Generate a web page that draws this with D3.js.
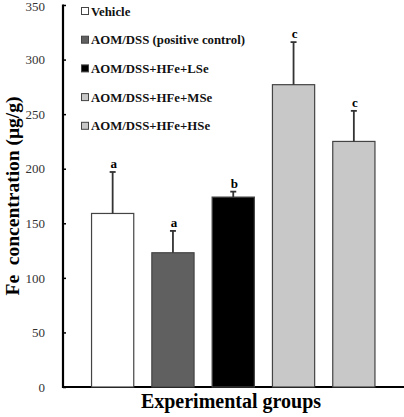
<!DOCTYPE html>
<html><head><meta charset="utf-8">
<script src="https://cdn.jsdelivr.net/npm/d3@7"></script>
<style>html,body{margin:0;padding:0;background:#fff;}svg{display:block;}</style>
</head><body>
<svg id="c" width="404" height="417"></svg>
<script>
const groups = ["Vehicle","AOM/DSS (positive control)","AOM/DSS+HFe+LSe","AOM/DSS+HFe+MSe","AOM/DSS+HFe+HSe"];
const means = [159, 123, 174, 277, 225];
const errors = [38, 20, 5, 39, 28];
const letters = ["a","a","b","c","c"];
const colors = ["#ffffff","#606060","#000000","#c8c8c8","#c8c8c8"];
const yTicks = [0,50,100,150,200,250,300,350];

const svg = d3.select("#c");
const font = "'Liberation Serif','Times New Roman',serif";
const x = d3.scaleBand().domain(groups).range([82.5,384]).paddingInner(0.3).paddingOuter(0.15);
const y = d3.scaleLinear().domain([0,350]).range([387,5]);

// y axis
const ya = svg.append("g").attr("transform","translate(63,0)")
  .call(d3.axisRight(y).tickValues(yTicks).tickSize(3).tickFormat(d3.format("d")));
ya.select(".domain").remove();
ya.selectAll(".tick line").attr("stroke","#000").attr("stroke-width",1.5);
ya.selectAll(".tick text").attr("x",-18).attr("text-anchor","end").attr("dx",0)
  .attr("dy",d=>d===350?"0.45em":"0.32em")
  .attr("font-family",font).attr("font-size",13).attr("fill","#333");
svg.append("line").attr("x1",63).attr("x2",63).attr("y1",y(350)-0.5).attr("y2",y(0)+1)
  .attr("stroke","#000").attr("stroke-width",2.2);
svg.append("line").attr("x1",62).attr("x2",404).attr("y1",y(0)).attr("y2",y(0))
  .attr("stroke","#000").attr("stroke-width",2.2);

// bars
svg.selectAll("rect.bar").data(groups).enter().append("rect").attr("class","bar")
  .attr("x",d=>x(d)).attr("width",x.bandwidth())
  .attr("y",(d,i)=>y(means[i])).attr("height",(d,i)=>y(0)-y(means[i]))
  .attr("fill",(d,i)=>colors[i]).attr("stroke","#444").attr("stroke-width",1.2);

// error bars
groups.forEach((g,i)=>{
  const cx = x(g)+x.bandwidth()/2;
  svg.append("line").attr("x1",cx).attr("x2",cx).attr("y1",y(means[i])).attr("y2",y(means[i]+errors[i]))
    .attr("stroke","#333").attr("stroke-width",1.8);
  svg.append("line").attr("x1",cx-3).attr("x2",cx+3).attr("y1",y(means[i]+errors[i])).attr("y2",y(means[i]+errors[i]))
    .attr("stroke","#333").attr("stroke-width",1.8);
  svg.append("text").attr("x",cx+1).attr("y",y(means[i]+errors[i])-4).attr("text-anchor","middle")
    .attr("font-family",font).attr("font-weight","bold").attr("font-size",13).text(letters[i]);
});

// legend
const lg = svg.append("g");
groups.forEach((g,i)=>{
  const cy = 11 + i*28.7;
  lg.append("rect").attr("x",81.5).attr("y",cy-3.5).attr("width",7).attr("height",7)
    .attr("fill",colors[i]).attr("stroke","#444").attr("stroke-width",1);
  lg.append("text").attr("x",91).attr("y",cy+4.5).attr("font-family",font).attr("font-weight","bold")
    .attr("font-size",12.8).attr("fill","#111").text(g);
});

// axis titles
svg.append("text").attr("x",231).attr("y",408).attr("text-anchor","middle")
  .attr("font-family",font).attr("font-weight","bold").attr("font-size",20).text("Experimental groups");
svg.append("text").attr("transform","translate(19,196) rotate(-90)").attr("text-anchor","middle")
  .attr("font-family",font).attr("font-weight","bold").attr("font-size",19.5)
  .style("white-space","pre").text("Fe  concentration (μg/g)");
</script>
</body></html>
